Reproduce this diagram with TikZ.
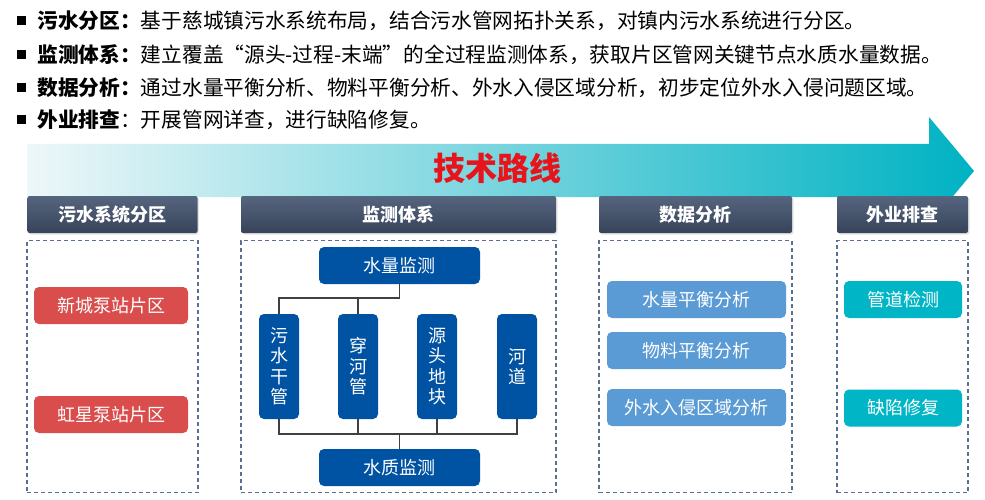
\documentclass[tikz,border=0pt]{standalone}
\usepackage{fontspec}
\setmainfont{Noto Sans CJK SC}
\usetikzlibrary{positioning,shadows}
\definecolor{hdtop}{HTML}{56657E}
\definecolor{hdbot}{HTML}{36435A}
\definecolor{redc}{HTML}{D94D4D}
\definecolor{bluec}{HTML}{0052A3}
\definecolor{anac}{HTML}{5B9BD5}
\definecolor{fieldc}{HTML}{00B5C5}
\definecolor{zonec}{HTML}{5B7090}
\definecolor{linec}{HTML}{404040}
\definecolor{titlec}{HTML}{E8141C}
\definecolor{bandl}{HTML}{EEF7F9}
\definecolor{bandr}{HTML}{00B2C3}
\begin{document}
\begin{tikzpicture}[x=1pt,y=-1pt]
        \tikzstyle{every node}=[inner sep=0pt]
        \tikzstyle{bullet}=[fill=black, minimum size=9pt]
        \tikzstyle{line}=[font=\fontsize{20.7}{21}\selectfont, anchor=west]
        \tikzstyle{head}=[top color=hdtop, bottom color=hdbot, text=white, font=\fontsize{18}{18}\selectfont\bfseries, minimum height=37pt, rounded corners=2pt, drop shadow={opacity=.2, shadow xshift=1.5pt, shadow yshift=-1.5pt}]
        \tikzstyle{zone}=[draw=zonec, line width=1.2pt, dash pattern=on 4pt off 3pt, minimum height=252pt]
        \tikzstyle{box}=[text=white, font=\fontsize{18}{20.5}\selectfont, rounded corners=5pt, minimum height=37pt, align=center]
        \tikzstyle{redbox}=[box, fill=redc, minimum width=154pt]
        \tikzstyle{bluebox}=[box, fill=bluec, minimum width=161pt]
        \tikzstyle{pipebox}=[box, fill=bluec, minimum width=40pt, minimum height=105pt]
        \tikzstyle{anabox}=[box, fill=anac, minimum width=179pt]
        \tikzstyle{fieldbox}=[box, fill=fieldc, minimum width=118pt]
        \tikzstyle{link}=[draw=linec, line width=1.5pt]
        \fill[white] (0,0) rectangle (985,500);
        \useasboundingbox (0,0) rectangle (985,500);
        \node[bullet] (b1) at (21.5,21) {};
        \node[bullet] (b2) at (21.5,55) {};
        \node[bullet] (b3) at (21.5,88) {};
        \node[bullet] (b4) at (21.5,120) {};
        \node[line, right=11pt of b1] (t1) {{\bfseries 污水分区：}基于慈城镇污水系统布局，结合污水管网拓扑关系，对镇内污水系统进行分区。};
        \node[line, right=11pt of b2] (t2) {{\bfseries 监测体系：}建立覆盖“源头-过程-末端”的全过程监测体系，获取片区管网关键节点水质水量数据。};
        \node[line, right=11pt of b3] (t3) {{\bfseries 数据分析：}通过水量平衡分析、物料平衡分析、外水入侵区域分析，初步定位外水入侵问题区域。};
        \node[line, right=11pt of b4] (t4) {{\bfseries 外业排查}：开展管网详查，进行缺陷修复。};
        \shade[left color=bandl, right color=bandr] (27,144) -- (929,144) -- (929,117) -- (974,171) -- (929,225) -- (929,197) -- (27,197) -- cycle;
        \node[text=titlec, font=\fontsize{32}{32}\selectfont\bfseries] (route) at (497,168) {技术路线};
        \node[head, minimum width=170pt] (h1) at (112.5,214.5) {污水系统分区};
        \node[head, minimum width=315pt] (h2) at (398.5,214.5) {监测体系};
        \node[head, minimum width=193pt] (h3) at (695.5,214.5) {数据分析};
        \node[head, minimum width=131pt] (h4) at (902.5,214.5) {外业排查};
        \node[zone, minimum width=171pt, below=7pt of h1] (d1) {};
        \node[zone, minimum width=315pt, below=7pt of h2] (d2) {};
        \node[zone, minimum width=193pt, below=7pt of h3] (d3) {};
        \node[zone, minimum width=131pt, below=7pt of h4] (d4) {};
        \node[redbox] (xc) at (111,305.5) {新城泵站片区};
        \node[redbox] (hx) at (111,414.5) {虹星泵站片区};
        \node[bluebox] (ql) at (399.5,265.5) {水量监测};
        \node[pipebox] (p1) at (279,366.5) {污\\水\\干\\管};
        \node[pipebox] (p2) at (358,366.5) {穿\\河\\管};
        \node[pipebox] (p3) at (437,366.5) {源\\头\\地\\块};
        \node[pipebox] (p4) at (517,366.5) {河\\道};
        \node[bluebox] (qq) at (399.5,467.5) {水质监测};
        \coordinate (jt) at (399.5,298);
        \coordinate (jb) at (399.5,434);
        \draw[link] (ql.south) -- (jt) -| (p1.north);
        \draw[link] (jt) -| (p2.north);
        \draw[link] (p1.south) |- (jb);
        \draw[link] (p2.south) |- (jb);
        \draw[link] (p3.south) |- (jb);
        \draw[link] (p4.south) |- (jb);
        \draw[link] (jb) -- (qq.north);
        \node[anabox] (sl) at (696.5,299.5) {水量平衡分析};
        \node[anabox] (wl) at (696.5,350.5) {物料平衡分析};
        \node[anabox] (wr) at (696.5,407.5) {外水入侵区域分析};
        \node[fieldbox] (gd) at (903,299.5) {管道检测};
        \node[fieldbox] (qx) at (903,408) {缺陷修复};
    \end{tikzpicture}
\end{document}
